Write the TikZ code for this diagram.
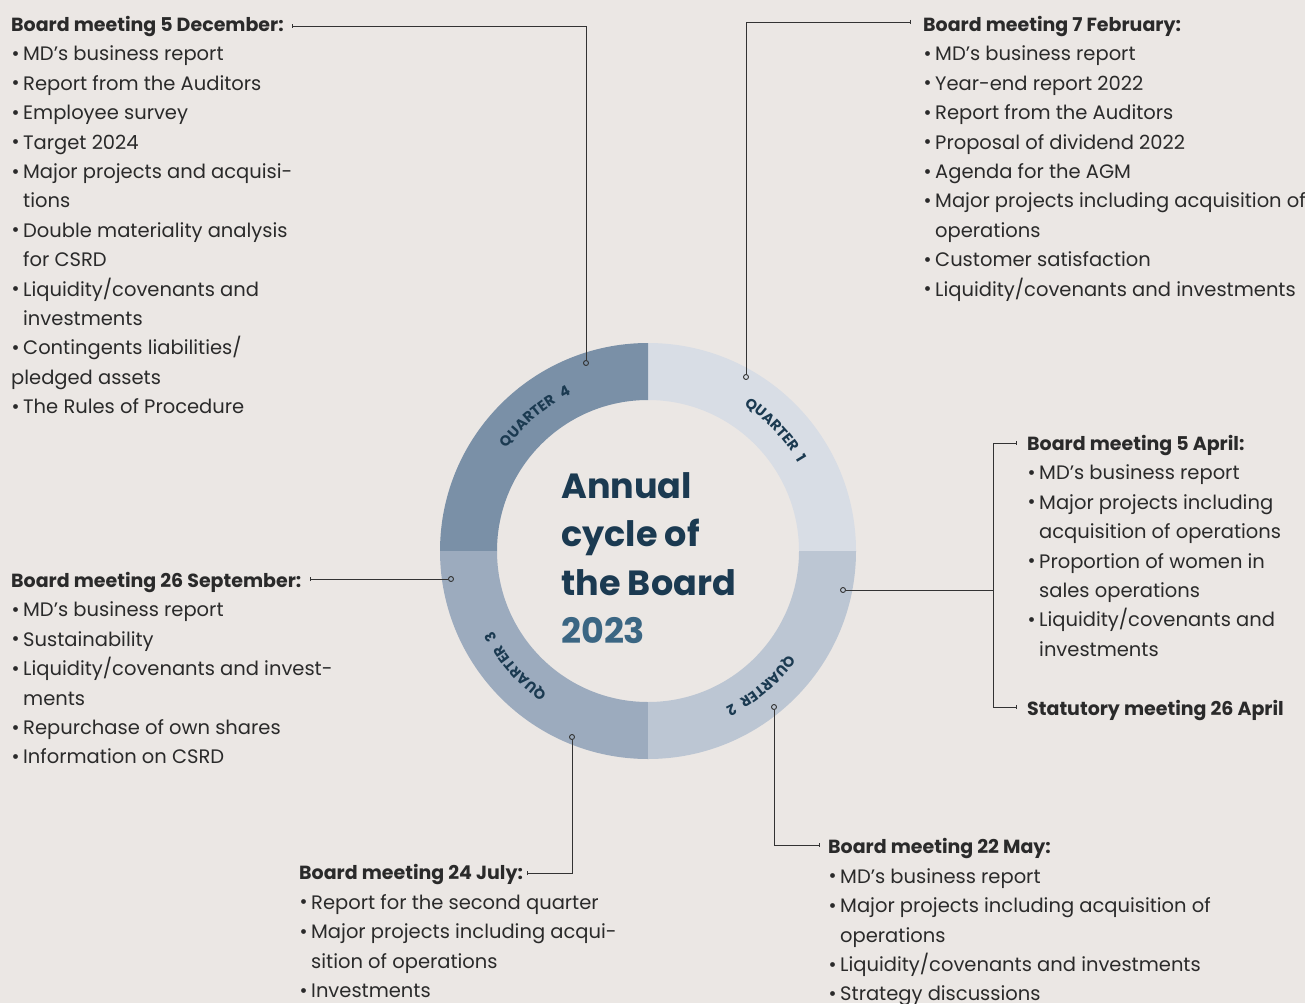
\documentclass[tikz,border=0pt]{standalone}
\usepackage{fontspec}
\setmainfont{Poppins}
\newfontfamily\qfam[LetterSpace=28]{Poppins}
\usetikzlibrary{decorations.text,arrows.meta,calc}
\definecolor{bg}{HTML}{EBE7E4}
\definecolor{qone}{HTML}{D8DDE5}
\definecolor{qtwo}{HTML}{BCC6D3}
\definecolor{qthree}{HTML}{9CABBE}
\definecolor{qfour}{HTML}{7A90A7}
\definecolor{txt}{HTML}{2A2A2A}
\definecolor{linec}{HTML}{333333}
\definecolor{navy}{HTML}{1B3A51}
\definecolor{steel}{HTML}{3B6683}
\newcommand\bul{\makebox[12pt][l]{\hspace{0.5pt}\raisebox{0.02em}{\scalebox{1.0}{\textbullet}}}}
\newcommand\ind{\hspace*{12pt}}
\newcommand\hd[1]{{\bfseries\fontsize{19}{29.4}\selectfont #1}}
\newcommand\qlab{\qfam\bfseries\fontsize{14.5}{14.5}\selectfont\color{navy}}
\tikzset{
  conn/.style={draw=linec, line width=0.9pt},
  tickend/.style={{Bar[width=4pt,line width=0.9pt]}-},
  dot/.style={circle, draw=linec, line width=0.9pt, inner sep=0pt, minimum size=5pt},
  block/.style={anchor=north west, inner sep=0pt, align=left, text=txt, font=\fontsize{19.5}{29.4}\selectfont},
  qtext/.style={decorate, decoration={text along path, text align=center, text={|\qlab|#1}}}
}
\begin{document}
\begin{tikzpicture}[x=1pt,y=1pt]
\useasboundingbox (0,0) rectangle (1305,-1003);
\fill[bg] (0,0) rectangle (1305,-1003);
\coordinate (c) at (648,-551);
% ring segments
\fill[qone] ($(c)+(0:151)$) -- ($(c)+(0:208)$) arc[start angle=0,end angle=90,radius=208] -- ($(c)+(90:151)$) arc[start angle=90,end angle=0,radius=151] -- cycle;
\fill[qfour] ($(c)+(90:151)$) -- ($(c)+(90:208)$) arc[start angle=90,end angle=180,radius=208] -- ($(c)+(180:151)$) arc[start angle=180,end angle=90,radius=151] -- cycle;
\fill[qthree] ($(c)+(180:151)$) -- ($(c)+(180:208)$) arc[start angle=180,end angle=270,radius=208] -- ($(c)+(270:151)$) arc[start angle=270,end angle=180,radius=151] -- cycle;
\fill[qtwo] ($(c)+(270:151)$) -- ($(c)+(270:208)$) arc[start angle=270,end angle=360,radius=208] -- ($(c)+(0:151)$) arc[start angle=360,end angle=270,radius=151] -- cycle;
% quarter labels
\path[qtext={QUARTER 1}] ($(c)+(83.5:174.5)$) arc[start angle=83.5,end angle=3.5,radius=174.5];
\path[qtext={QUARTER 2}] ($(c)+(-10:174.5)$) arc[start angle=-10,end angle=-90,radius=174.5];
\path[qtext={QUARTER 3}] ($(c)+(-99:174.5)$) arc[start angle=-99,end angle=-179,radius=174.5];
\path[qtext={QUARTER 4}] ($(c)+(170:174.5)$) arc[start angle=170,end angle=90,radius=174.5];
% centre title
\node[anchor=north west, inner sep=0pt, align=left, text=navy, font=\bfseries\fontsize{35}{48.3}\selectfont] (title) at (561,-472.5) {Annual\\cycle of\\the Board\\\textcolor{steel}{2023}};
% dots
\node[dot] (d1) at (746,-377) {};
\node[dot] (d2) at (843,-590) {};
\node[dot] (d2b) at (774,-707) {};
\node[dot] (d3) at (572,-737) {};
\node[dot] (d3b) at (451,-579) {};
\node[dot] (d4) at (586,-363) {};
% text blocks
\node[block] (b4) at (11,-16) {\hd{Board meeting 5 December:}\\
\bul MD’s business report\\
\bul Report from the Auditors\\
\bul Employee survey\\
\bul Target 2024\\
\bul Major projects and acquisi-\\
\ind tions\\
\bul Double materiality analysis\\
\ind for CSRD\\
\bul Liquidity/covenants and\\
\ind investments\\
\bul Contingents liabilities/\\
pledged assets\\
\bul The Rules of Procedure};
\node[block] (b1) at (923,-16) {\hd{Board meeting 7 February:}\\
\bul MD’s business report\\
\bul Year-end report 2022\\
\bul Report from the Auditors\\
\bul Proposal of dividend 2022\\
\bul Agenda for the AGM\\
\bul Major projects including acquisition of\\
\ind operations\\
\bul Customer satisfaction\\
\bul Liquidity/covenants and investments};
\node[block] (b2) at (1027,-435) {\hd{Board meeting 5 April:}\\
\bul MD’s business report\\
\bul Major projects including\\
\ind acquisition of operations\\
\bul Proportion of women in\\
\ind sales operations\\
\bul Liquidity/covenants and\\
\ind investments\\[29.4pt]
\hd{Statutory meeting 26 April}};
\node[block] (b2b) at (828,-838.5) {\hd{Board meeting 22 May:}\\
\bul MD’s business report\\
\bul Major projects including acquisition of\\
\ind operations\\
\bul Liquidity/covenants and investments\\
\bul Strategy discussions};
\node[block] (b3) at (299,-864.5) {\hd{Board meeting 24 July:}\\
\bul Report for the second quarter\\
\bul Major projects including acqui-\\
\ind sition of operations\\
\bul Investments};
\node[block] (b3b) at (11,-572) {\hd{Board meeting 26 September:}\\
\bul MD’s business report\\
\bul Sustainability\\
\bul Liquidity/covenants and invest-\\
\ind ments\\
\bul Repurchase of own shares\\
\bul Information on CSRD};
% connectors
\coordinate (t4) at (292,-26);
\coordinate (t1) at (911,-22);
\coordinate (a1) at (1017,-443);
\coordinate (a2) at (1017,-707);
\coordinate (ab) at (993,-590);
\coordinate (t2) at (820,-845);
\coordinate (t3) at (527,-873);
\coordinate (t3b) at (310,-579);
\draw[conn,tickend] (t4) -| (d4);
\draw[conn,tickend] (t1) -| (d1);
\draw[conn,tickend] (a1) -| (ab);
\draw[conn,tickend] (a2) -| (ab);
\draw[conn] (d2) -- (ab);
\draw[conn,tickend] (t2) -| (d2b);
\draw[conn,tickend] (t3) -| (d3);
\draw[conn,tickend] (t3b) -- (d3b);
\end{tikzpicture}
\end{document}
